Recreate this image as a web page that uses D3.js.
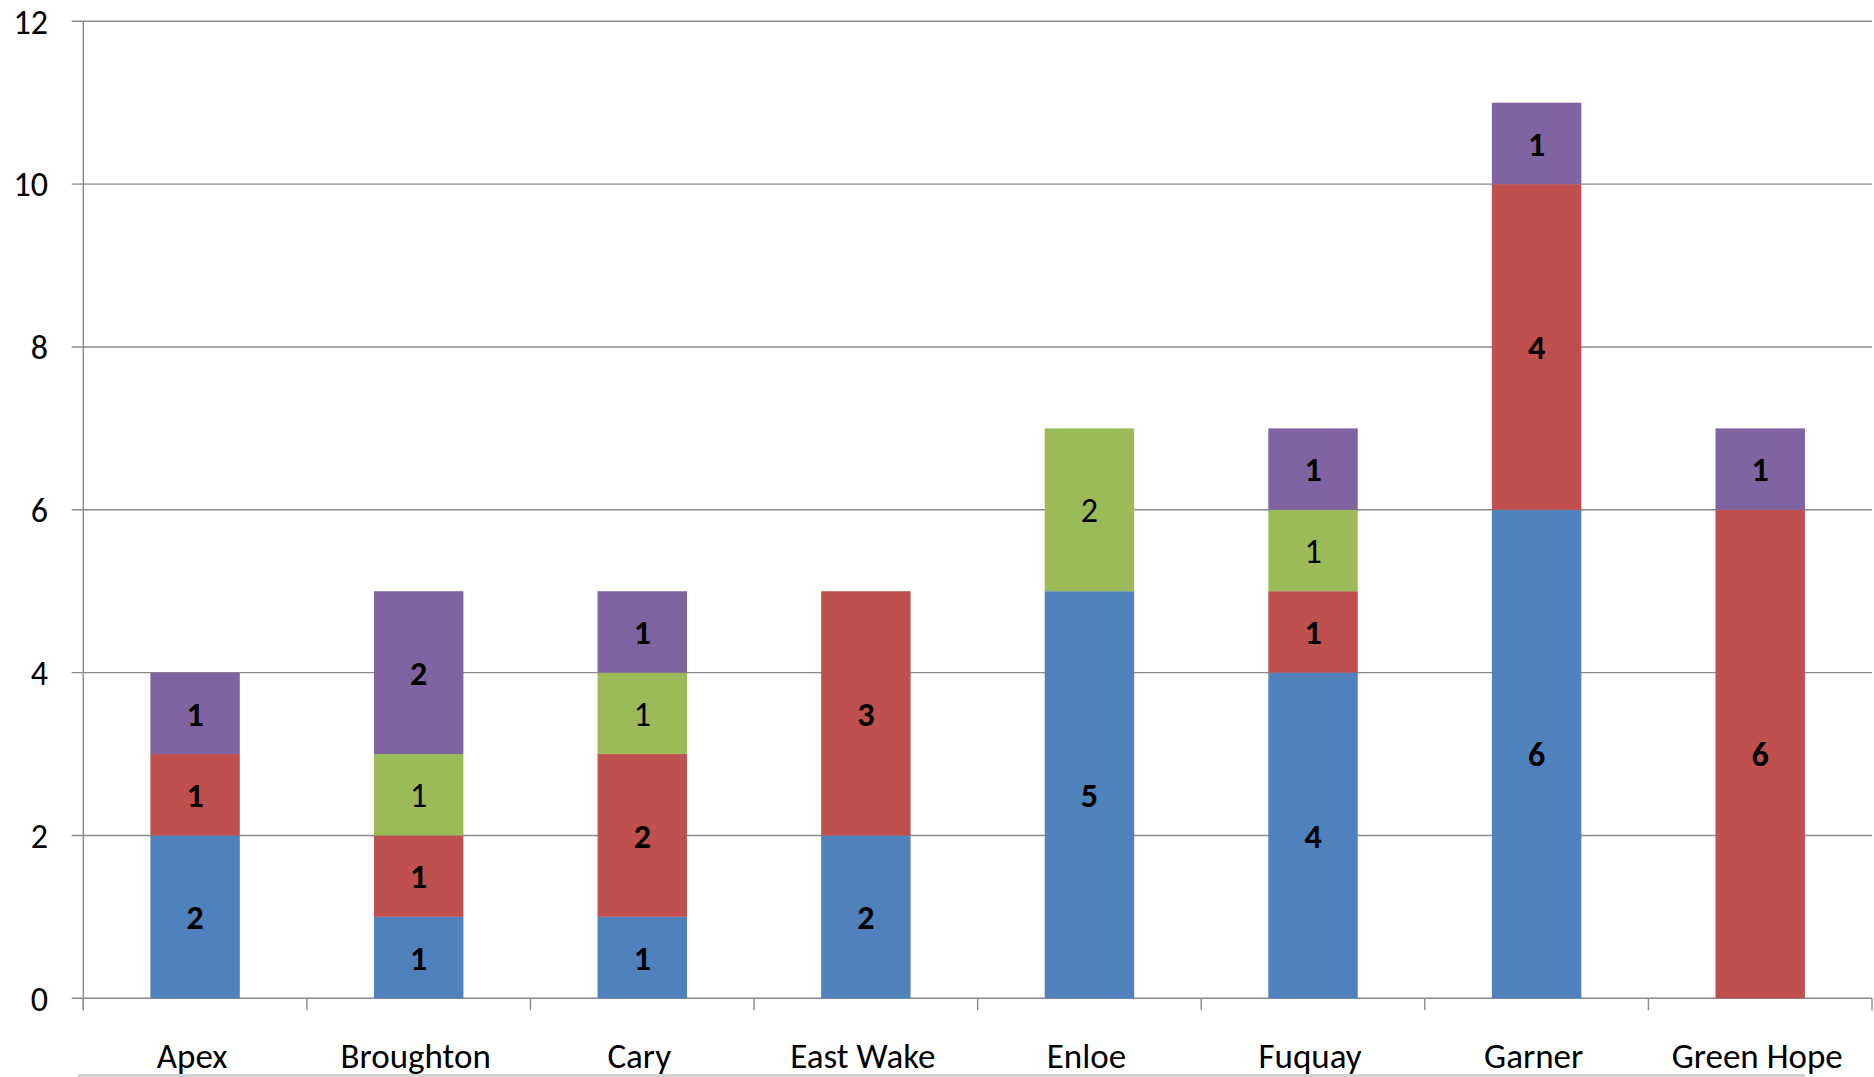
<!DOCTYPE html>
<html>
<head>
<meta charset="utf-8">
<script src="https://cdn.jsdelivr.net/npm/d3@7"></script>
<style>
body { margin:0; background:#fff; }
svg { display:block; font-family: Carlito, Lato, sans-serif; }
</style>
</head>
<body>
<svg width="1874" height="1077"></svg>
<script>
var schools = ['Apex','Broughton','Cary','East Wake','Enloe','Fuquay','Garner','Green Hope'];
var blueVals   = [2,1,1,2,5,4,6,0];
var redVals    = [1,1,2,3,0,1,4,6];
var greenVals  = [0,1,1,0,2,1,0,0];
var purpleVals = [1,2,1,0,0,1,1,1];
var seriesKeys = ['blue','red','green','purple'];
var seriesColors = ['#4F81BD','#C0504D','#9BBB59','#8064A2'];
var yTicks = [0,2,4,6,8,10,12];

var rows = schools.map(function(s,i){
  return {school:s, blue:blueVals[i], red:redVals[i], green:greenVals[i], purple:purpleVals[i]};
});

var svg = d3.select('svg');
var plotL = 83.3, plotR = 1872, plotT = 21.3, plotB = 998.3;

var x = d3.scaleBand().domain(schools).range([plotL,plotR]).padding(0);
var y = d3.scaleLinear().domain([0,12]).range([plotB,plotT]);
var barW = x.bandwidth()*0.4;

// gridlines + y labels
svg.append('g').selectAll('line').data(yTicks).enter().append('line')
  .attr('x1',71.7).attr('x2',plotR).attr('y1',function(d){return y(d);}).attr('y2',function(d){return y(d);})
  .attr('stroke','#8a8a8a').attr('stroke-width',1.4);
svg.append('g').selectAll('text').data(yTicks).enter().append('text')
  .attr('x',48).attr('y',function(d){return y(d);}).attr('dy','0.36em')
  .attr('text-anchor','end').attr('font-size',34).attr('fill','#000')
  .text(function(d){return d;});

// y axis line
svg.append('line').attr('x1',plotL).attr('x2',plotL).attr('y1',plotT).attr('y2',plotB+12)
  .attr('stroke','#8a8a8a').attr('stroke-width',1.4);
// category ticks
var tickXs = schools.map(function(s){return x(s);}).concat([plotR]);
svg.append('g').selectAll('line').data(tickXs).enter().append('line')
  .attr('x1',function(d){return d;}).attr('x2',function(d){return d;})
  .attr('y1',plotB).attr('y2',plotB+12)
  .attr('stroke','#8a8a8a').attr('stroke-width',1.4);

// stacked bars
var stack = d3.stack().keys(seriesKeys)(rows);
stack.forEach(function(layer,k){
  var g = svg.append('g');
  var segs = layer.filter(function(d){return d[1]-d[0]>0;});
  g.selectAll('rect').data(segs).enter().append('rect')
    .attr('x',function(d){return x(d.data.school)+x.bandwidth()/2-barW/2;})
    .attr('width',barW)
    .attr('y',function(d){return y(d[1]);})
    .attr('height',function(d){return y(d[0])-y(d[1]);})
    .attr('fill',seriesColors[k]);
  g.selectAll('text').data(segs).enter().append('text')
    .attr('x',function(d){return x(d.data.school)+x.bandwidth()/2;})
    .attr('y',function(d){return (y(d[0])+y(d[1]))/2;})
    .attr('dy','0.36em')
    .attr('text-anchor','middle').attr('font-size',34)
    .attr('font-weight', seriesKeys[k]=='green' ? 'normal' : 'bold')
    .attr('fill','#000')
    .text(function(d){return d[1]-d[0];});
});

// x labels
svg.append('g').selectAll('text').data(schools).enter().append('text')
  .attr('x',function(d){return x(d)+x.bandwidth()/2-3;}).attr('y',1068)
  .attr('text-anchor','middle').attr('font-size',35).attr('fill','#000')
  .text(function(d){return d;});

// bottom border line (cut off)
svg.append('line').attr('x1',78).attr('x2',1805).attr('y1',1075.5).attr('y2',1075.5)
  .attr('stroke','#d4d4d4').attr('stroke-width',3);
</script>
</body>
</html>
